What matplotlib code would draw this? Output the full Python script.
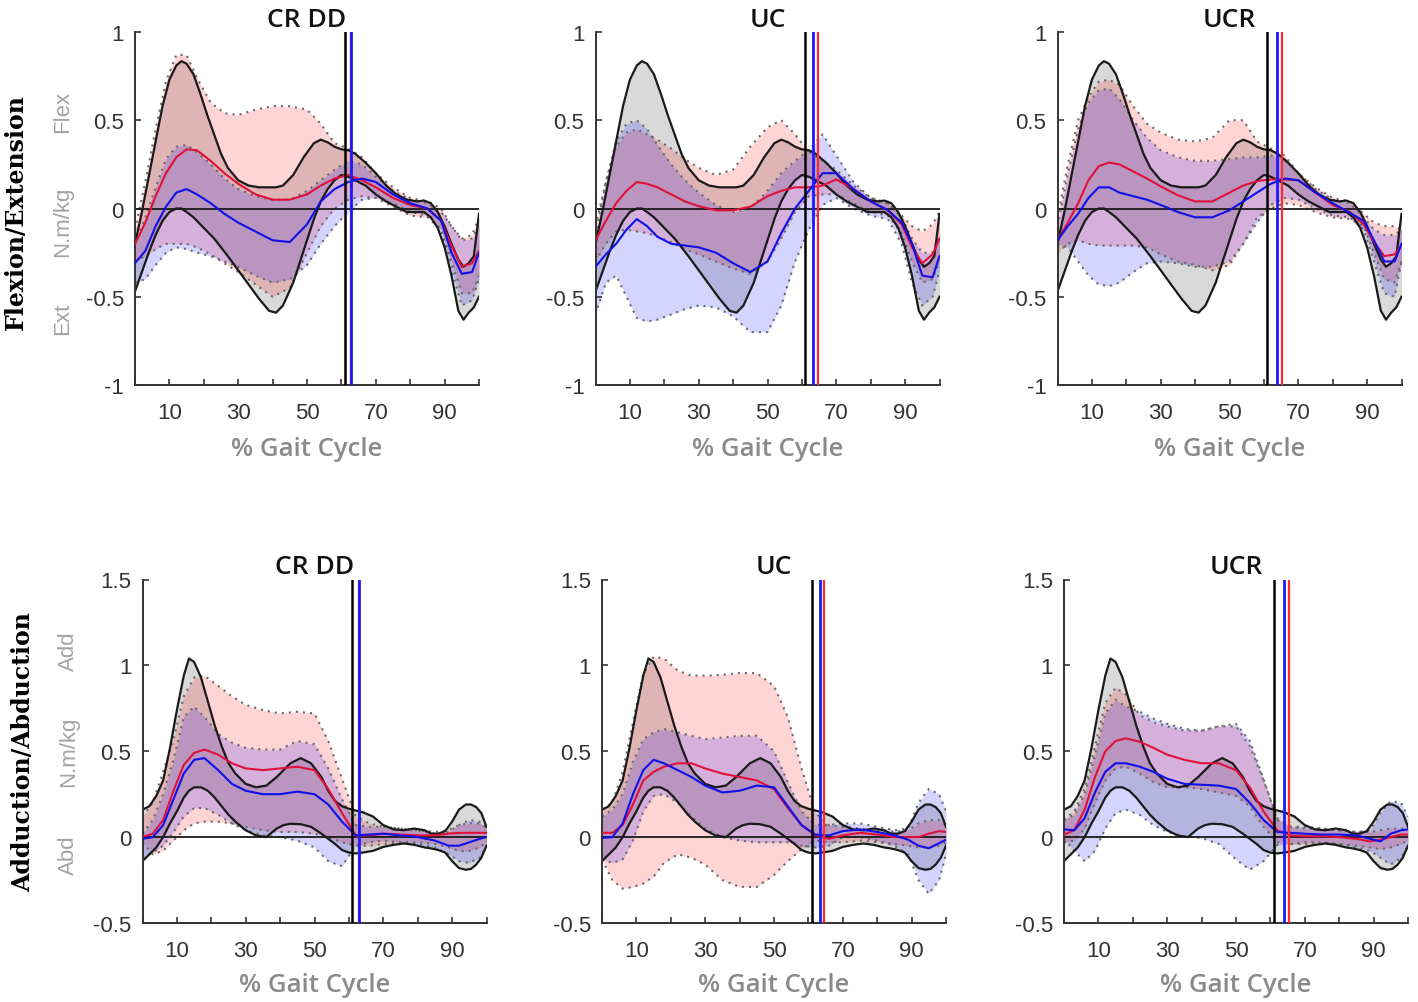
import numpy as np
import matplotlib
matplotlib.use("Agg")
import matplotlib.pyplot as plt

# ---------------- data ----------------
gait_pct = [0, 3, 6, 9, 12, 15, 18, 22, 26, 30, 35, 40, 45, 50, 54, 58, 62, 66, 70, 75, 80, 85, 89, 92, 95, 98, 100]
norm_pct = [0, 2, 4, 6, 8, 10, 12, 13.5, 15, 17, 19, 21, 23, 25, 27, 30, 33, 36, 39, 41, 43, 46, 49, 52, 54, 56, 58, 60,
            62, 64, 67, 70, 73, 76, 79, 82, 84, 86, 88, 90, 92, 94, 95.5, 97, 98.5, 100]

groups = ["CR DD", "UC", "UCR"]
row_labels = ["Flexion/Extension", "Adduction/Abduction"]

# Top row: flexion/extension moment (N.m/kg); normal band on norm_pct
fe_norm_up = [-0.2, -0.02, 0.18, 0.38, 0.58, 0.73, 0.81, 0.835, 0.82, 0.76, 0.65, 0.53, 0.42, 0.31, 0.23, 0.16, 0.13, 0.12,
              0.12, 0.12, 0.13, 0.19, 0.29, 0.37, 0.39, 0.375, 0.35, 0.335, 0.33, 0.31, 0.26, 0.2, 0.13, 0.08, 0.05, 0.04,
              0.045, 0.03, -0.02, -0.1, -0.2, -0.29, -0.33, -0.31, -0.27, -0.03]
fe_norm_lo = [-0.47, -0.36, -0.25, -0.15, -0.07, -0.02, 0.0, 0.0, -0.02, -0.05, -0.09, -0.13, -0.17, -0.22, -0.27, -0.35,
              -0.43, -0.51, -0.58, -0.59, -0.55, -0.42, -0.24, -0.06, 0.04, 0.11, 0.16, 0.19, 0.18, 0.16, 0.13, 0.08, 0.04,
              0.01, -0.02, -0.02, -0.02, -0.05, -0.11, -0.22, -0.38, -0.58, -0.63, -0.59, -0.56, -0.5]

fe_crdd_red_up = [-0.12, 0.15, 0.45, 0.72, 0.87, 0.87, 0.74, 0.6, 0.54, 0.53, 0.56, 0.58, 0.58, 0.56, 0.48, 0.37, 0.34, 0.29, 0.2, 0.12, 0.06, 0.04, 0.0, -0.1, -0.17, -0.15, -0.05]
fe_crdd_red_lo = [-0.3, -0.27, -0.23, -0.2, -0.2, -0.2, -0.22, -0.26, -0.31, -0.36, -0.43, -0.5, -0.45, -0.25, -0.1, 0.0, 0.05, 0.07, 0.06, 0.01, -0.04, -0.05, -0.12, -0.3, -0.48, -0.48, -0.38]
fe_crdd_blue_up = [-0.2, -0.05, 0.12, 0.28, 0.35, 0.36, 0.32, 0.25, 0.17, 0.11, 0.07, 0.05, 0.05, 0.1, 0.16, 0.22, 0.27, 0.25, 0.18, 0.1, 0.05, 0.03, -0.02, -0.1, -0.18, -0.17, -0.1]
fe_crdd_blue_lo = [-0.42, -0.4, -0.32, -0.25, -0.22, -0.23, -0.25, -0.27, -0.3, -0.33, -0.38, -0.42, -0.4, -0.32, -0.2, -0.1, -0.02, 0.05, 0.06, 0.03, -0.02, -0.04, -0.12, -0.35, -0.55, -0.52, -0.4]
fe_crdd_red_mean = [-0.2, -0.08, 0.07, 0.2, 0.29, 0.335, 0.33, 0.27, 0.2, 0.14, 0.08, 0.05, 0.05, 0.08, 0.13, 0.17, 0.19, 0.16, 0.12, 0.06, 0.02, 0.0, -0.07, -0.21, -0.33, -0.31, -0.24]
fe_crdd_blue_mean = [-0.31, -0.24, -0.1, 0.01, 0.09, 0.11, 0.08, 0.03, -0.03, -0.08, -0.13, -0.18, -0.19, -0.09, 0.04, 0.11, 0.15, 0.17, 0.15, 0.08, 0.03, 0.0, -0.07, -0.25, -0.37, -0.36, -0.25]

fe_uc_red_up = [-0.1, 0.15, 0.35, 0.43, 0.45, 0.42, 0.39, 0.34, 0.28, 0.23, 0.19, 0.22, 0.35, 0.46, 0.5, 0.42, 0.32, 0.27, 0.22, 0.13, 0.06, 0.03, -0.04, -0.1, -0.13, -0.09, -0.02]
fe_uc_red_lo = [-0.3, -0.2, -0.13, -0.12, -0.13, -0.14, -0.16, -0.19, -0.23, -0.26, -0.3, -0.34, -0.37, -0.3, -0.17, -0.02, 0.07, 0.08, 0.08, 0.03, -0.02, -0.04, -0.14, -0.3, -0.42, -0.4, -0.3]
fe_uc_blue_up = [-0.15, 0.15, 0.38, 0.48, 0.5, 0.45, 0.36, 0.25, 0.16, 0.09, 0.02, -0.02, 0.0, 0.1, 0.2, 0.27, 0.33, 0.42, 0.3, 0.15, 0.06, 0.03, -0.05, -0.17, -0.25, -0.25, -0.15]
fe_uc_blue_lo = [-0.6, -0.42, -0.38, -0.5, -0.62, -0.64, -0.63, -0.6, -0.57, -0.55, -0.56, -0.61, -0.7, -0.7, -0.55, -0.3, -0.12, 0.02, 0.06, 0.0, -0.04, -0.06, -0.2, -0.42, -0.55, -0.5, -0.35]
fe_uc_red_mean = [-0.18, -0.07, 0.03, 0.1, 0.15, 0.14, 0.12, 0.08, 0.04, 0.013, -0.01, -0.01, 0.01, 0.07, 0.1, 0.12, 0.12, 0.13, 0.165, 0.11, 0.04, -0.01, -0.09, -0.22, -0.31, -0.26, -0.17]
fe_uc_blue_mean = [-0.33, -0.26, -0.2, -0.12, -0.06, -0.1, -0.16, -0.2, -0.21, -0.22, -0.25, -0.31, -0.36, -0.3, -0.14, 0.0, 0.1, 0.2, 0.2, 0.11, 0.04, -0.01, -0.08, -0.2, -0.38, -0.39, -0.27]

fe_ucr_red_up = [-0.05, 0.25, 0.5, 0.63, 0.72, 0.73, 0.7, 0.58, 0.48, 0.43, 0.39, 0.38, 0.4, 0.5, 0.5, 0.38, 0.34, 0.3, 0.2, 0.12, 0.06, 0.04, -0.03, -0.08, -0.1, -0.1, -0.12]
fe_ucr_red_lo = [-0.25, -0.2, -0.18, -0.2, -0.21, -0.21, -0.21, -0.21, -0.22, -0.26, -0.3, -0.32, -0.35, -0.32, -0.2, -0.05, 0.0, 0.03, 0.02, -0.02, -0.05, -0.06, -0.1, -0.25, -0.4, -0.42, -0.3]
fe_ucr_blue_up = [-0.1, 0.2, 0.45, 0.6, 0.67, 0.68, 0.62, 0.5, 0.4, 0.33, 0.29, 0.27, 0.27, 0.28, 0.29, 0.29, 0.3, 0.28, 0.2, 0.11, 0.05, 0.03, -0.05, -0.12, -0.15, -0.15, -0.12]
fe_ucr_blue_lo = [-0.2, -0.22, -0.3, -0.38, -0.43, -0.44, -0.42, -0.36, -0.31, -0.3, -0.31, -0.33, -0.33, -0.3, -0.2, -0.08, 0.02, 0.06, 0.05, 0.0, -0.04, -0.05, -0.12, -0.3, -0.48, -0.5, -0.3]
fe_ucr_red_mean = [-0.18, -0.08, 0.03, 0.16, 0.24, 0.26, 0.25, 0.21, 0.17, 0.125, 0.075, 0.04, 0.04, 0.09, 0.13, 0.155, 0.165, 0.165, 0.16, 0.09, 0.02, -0.02, -0.09, -0.19, -0.27, -0.26, -0.21]
fe_ucr_blue_mean = [-0.18, -0.1, -0.03, 0.06, 0.12, 0.12, 0.09, 0.07, 0.05, 0.02, -0.02, -0.05, -0.05, -0.01, 0.04, 0.09, 0.14, 0.17, 0.16, 0.09, 0.03, -0.025, -0.07, -0.18, -0.3, -0.3, -0.2]

# Bottom row: adduction/abduction moment (N.m/kg); normal band on norm_pct
aa_norm_up = [0.16, 0.18, 0.24, 0.33, 0.52, 0.74, 0.94, 1.04, 1.02, 0.93, 0.79, 0.65, 0.53, 0.43, 0.37, 0.31, 0.29, 0.3,
              0.35, 0.39, 0.43, 0.46, 0.43, 0.35, 0.27, 0.21, 0.18, 0.165, 0.155, 0.145, 0.12, 0.07, 0.045, 0.04, 0.05,
              0.04, 0.02, 0.02, 0.035, 0.09, 0.16, 0.19, 0.19, 0.175, 0.14, 0.06]
aa_norm_lo = [-0.14, -0.1, -0.06, 0.0, 0.08, 0.15, 0.23, 0.27, 0.29, 0.29, 0.27, 0.23, 0.18, 0.13, 0.09, 0.04, 0.01, 0.0,
              0.05, 0.07, 0.078, 0.075, 0.06, 0.02, -0.01, -0.04, -0.075, -0.09, -0.095, -0.09, -0.08, -0.057, -0.045,
              -0.037, -0.045, -0.06, -0.066, -0.075, -0.09, -0.14, -0.18, -0.19, -0.185, -0.16, -0.12, -0.05]

aa_crdd_red_up = [0.12, 0.2, 0.38, 0.57, 0.82, 0.93, 0.94, 0.88, 0.82, 0.77, 0.74, 0.72, 0.73, 0.72, 0.56, 0.34, 0.12, 0.08, 0.06, 0.05, 0.04, 0.03, 0.04, 0.07, 0.08, 0.08, 0.06]
aa_crdd_red_lo = [-0.03, -0.1, -0.08, -0.02, 0.04, 0.08, 0.09, 0.09, 0.08, 0.06, 0.04, 0.03, 0.03, 0.02, 0.0, -0.03, -0.05, -0.05, -0.04, -0.03, -0.03, -0.04, -0.06, -0.08, -0.08, -0.06, -0.03]
aa_crdd_blue_up = [0.02, 0.1, 0.25, 0.45, 0.7, 0.76, 0.7, 0.6, 0.55, 0.52, 0.51, 0.51, 0.56, 0.54, 0.4, 0.22, 0.07, 0.06, 0.06, 0.05, 0.04, 0.02, 0.03, 0.07, 0.1, 0.09, 0.05]
aa_crdd_blue_lo = [-0.12, -0.09, -0.05, 0.03, 0.12, 0.17, 0.17, 0.13, 0.08, 0.04, 0.01, 0.0, -0.02, -0.06, -0.14, -0.17, -0.05, -0.03, -0.02, -0.03, -0.04, -0.06, -0.1, -0.14, -0.15, -0.12, -0.05]
aa_crdd_red_mean = [0.0, 0.02, 0.1, 0.27, 0.42, 0.49, 0.51, 0.48, 0.43, 0.4, 0.39, 0.4, 0.41, 0.39, 0.28, 0.14, 0.01, 0.01, 0.02, 0.015, 0.01, 0.01, 0.02, 0.025, 0.025, 0.025, 0.025]
aa_crdd_blue_mean = [-0.01, 0.0, 0.07, 0.22, 0.37, 0.45, 0.46, 0.39, 0.31, 0.27, 0.25, 0.25, 0.265, 0.25, 0.19, 0.09, 0.01, 0.015, 0.02, 0.01, 0.0, -0.02, -0.05, -0.05, -0.03, -0.01, 0.0]

aa_uc_red_up = [0.16, 0.2, 0.38, 0.67, 0.95, 1.05, 1.04, 0.97, 0.94, 0.94, 0.945, 0.955, 0.955, 0.88, 0.7, 0.4, 0.14, 0.07, 0.06, 0.05, 0.04, 0.03, 0.04, 0.08, 0.1, 0.1, 0.07]
aa_uc_red_lo = [-0.13, -0.25, -0.3, -0.29, -0.27, -0.23, -0.15, -0.1, -0.12, -0.16, -0.25, -0.29, -0.29, -0.22, -0.14, -0.07, -0.02, -0.03, -0.03, -0.02, -0.03, -0.04, -0.05, -0.06, -0.06, -0.05, -0.03]
aa_uc_blue_up = [0.12, 0.16, 0.25, 0.44, 0.57, 0.61, 0.63, 0.61, 0.59, 0.57, 0.58, 0.59, 0.59, 0.5, 0.32, 0.15, 0.07, 0.07, 0.08, 0.08, 0.06, 0.04, 0.05, 0.2, 0.28, 0.25, 0.15]
aa_uc_blue_lo = [-0.13, -0.15, -0.13, -0.02, 0.15, 0.24, 0.25, 0.2, 0.12, 0.05, 0.0, -0.02, -0.03, -0.03, -0.03, -0.05, -0.06, -0.05, 0.0, 0.0, -0.02, -0.05, -0.1, -0.25, -0.33, -0.25, -0.1]
aa_uc_red_mean = [0.025, 0.025, 0.07, 0.19, 0.33, 0.38, 0.41, 0.43, 0.43, 0.4, 0.37, 0.35, 0.33, 0.28, 0.17, 0.07, 0.01, -0.01, 0.01, 0.025, 0.015, 0.0, 0.0, 0.0, 0.02, 0.035, 0.03]
aa_uc_blue_mean = [-0.005, 0.0, 0.08, 0.25, 0.39, 0.45, 0.43, 0.39, 0.35, 0.3, 0.26, 0.27, 0.3, 0.29, 0.18, 0.07, 0.015, 0.01, 0.035, 0.045, 0.03, 0.01, -0.015, -0.05, -0.065, -0.035, -0.015]

aa_ucr_red_up = [0.1, 0.15, 0.28, 0.53, 0.78, 0.87, 0.83, 0.71, 0.67, 0.645, 0.62, 0.62, 0.645, 0.645, 0.53, 0.33, 0.11, 0.06, 0.05, 0.05, 0.04, 0.03, 0.03, 0.04, 0.05, 0.05, 0.05]
aa_ucr_red_lo = [-0.03, -0.02, 0.05, 0.2, 0.33, 0.4, 0.41, 0.37, 0.32, 0.29, 0.29, 0.28, 0.26, 0.24, 0.18, 0.06, -0.03, -0.04, -0.04, -0.04, -0.04, -0.05, -0.06, -0.07, -0.06, -0.04, -0.02]
aa_ucr_blue_up = [0.1, 0.13, 0.25, 0.48, 0.72, 0.8, 0.76, 0.73, 0.69, 0.66, 0.63, 0.62, 0.645, 0.66, 0.56, 0.34, 0.1, 0.06, 0.06, 0.05, 0.04, 0.03, 0.04, 0.14, 0.21, 0.2, 0.12]
aa_ucr_blue_lo = [-0.01, -0.08, -0.14, -0.08, 0.05, 0.14, 0.16, 0.13, 0.07, 0.03, 0.005, -0.005, -0.04, -0.13, -0.19, -0.14, -0.045, -0.04, -0.03, -0.03, -0.04, -0.06, -0.08, -0.12, -0.16, -0.12, -0.05]
aa_ucr_red_mean = [0.015, 0.04, 0.16, 0.35, 0.5, 0.56, 0.575, 0.555, 0.52, 0.48, 0.45, 0.43, 0.43, 0.39, 0.29, 0.15, 0.04, 0.01, 0.005, 0.005, 0.0, -0.01, -0.025, -0.015, 0.0, 0.015, 0.015]
aa_ucr_blue_mean = [0.045, 0.04, 0.11, 0.26, 0.38, 0.43, 0.43, 0.41, 0.38, 0.34, 0.31, 0.305, 0.3, 0.28, 0.2, 0.1, 0.03, 0.025, 0.02, 0.015, 0.015, 0.01, -0.01, -0.025, 0.02, 0.04, 0.045]

# toe-off (% gait cycle): normal, red group, blue group
toe_off_norm = [61.0, 61.0, 61.0]
toe_off_red = [62.9, 64.6, 65.3]
toe_off_blue = [62.9, 63.3, 63.9]

# axis ticks
x_ticks = [0, 10, 20, 30, 40, 50, 60, 70, 80, 90, 100]
x_ticklabels = ["", "10", "", "30", "", "50", "", "70", "", "90", ""]
fe_yticks = [-1, -0.5, 0, 0.5, 1]
fe_yticklabels = ["-1", "-0.5", "0", "0.5", "1"]
aa_yticks = [-0.5, 0, 0.5, 1, 1.5]
aa_yticklabels = ["-0.5", "0", "0.5", "1", "1.5"]

fe_series = [
    (fe_crdd_red_up, fe_crdd_red_lo, fe_crdd_blue_up, fe_crdd_blue_lo, fe_crdd_red_mean, fe_crdd_blue_mean),
    (fe_uc_red_up, fe_uc_red_lo, fe_uc_blue_up, fe_uc_blue_lo, fe_uc_red_mean, fe_uc_blue_mean),
    (fe_ucr_red_up, fe_ucr_red_lo, fe_ucr_blue_up, fe_ucr_blue_lo, fe_ucr_red_mean, fe_ucr_blue_mean),
]
aa_series = [
    (aa_crdd_red_up, aa_crdd_red_lo, aa_crdd_blue_up, aa_crdd_blue_lo, aa_crdd_red_mean, aa_crdd_blue_mean),
    (aa_uc_red_up, aa_uc_red_lo, aa_uc_blue_up, aa_uc_blue_lo, aa_uc_red_mean, aa_uc_blue_mean),
    (aa_ucr_red_up, aa_ucr_red_lo, aa_ucr_blue_up, aa_ucr_blue_lo, aa_ucr_red_mean, aa_ucr_blue_mean),
]

# ---------------- figure ----------------
W, H = 1418, 1003
fig = plt.figure(figsize=(W / 100, H / 100), dpi=100)

top_lefts = [135, 595.5, 1057.5]
bot_lefts = [142.5, 602, 1064]
ax_w = 344

TICK_COLOR = "#333333"
DOT = (0, (1, 2.4))

def draw_panel(ax, norm_up, norm_lo, ser, k, ylim, yticks, yticklabels, title):
    red_up, red_lo, blue_up, blue_lo, red_mean, blue_mean = ser
    x = gait_pct
    ax.fill_between(norm_pct, norm_lo, norm_up, color="black", alpha=0.15, lw=0, zorder=1)
    ax.fill_between(x, red_lo, red_up, color="red", alpha=0.17, lw=0, zorder=1.1)
    ax.fill_between(x, blue_lo, blue_up, color="blue", alpha=0.17, lw=0, zorder=1.2)
    for arr in (red_up, red_lo, blue_up, blue_lo):
        ax.plot(x, arr, color="#6a6a6a", lw=1.5, linestyle=DOT, zorder=2)
    for arr in (norm_up, norm_lo):
        ax.plot(norm_pct, arr, color="#1a1a1a", lw=1.6, zorder=2.5)
    ax.axhline(0, color="#1a1a1a", lw=1.3, zorder=2.4)
    ax.plot(x, red_mean, color="#e0103a", lw=1.5, zorder=3)
    ax.plot(x, blue_mean, color="#1010e8", lw=1.5, zorder=3.1)
    ax.axvline(toe_off_norm[k], color="black", lw=1.8, zorder=4)
    ax.axvline(toe_off_red[k], color="#ff2a2a", lw=1.6, zorder=4)
    ax.axvline(toe_off_blue[k], color="#1a1aff", lw=2.0, zorder=4.1)

    ax.set_xlim(0, 100)
    ax.set_ylim(*ylim)
    ax.set_xticks(x_ticks)
    ax.set_xticklabels(x_ticklabels)
    ax.set_yticks(yticks)
    ax.set_yticklabels(yticklabels)
    for s in ("top", "right"):
        ax.spines[s].set_visible(False)
    for s in ("left", "bottom"):
        ax.spines[s].set_color(TICK_COLOR)
        ax.spines[s].set_linewidth(1.4)
    ax.tick_params(axis="both", direction="in", length=4, width=1.2, color=TICK_COLOR,
                   labelcolor=TICK_COLOR, labelsize=16)
    ax.tick_params(axis="x", pad=12)
    ax.tick_params(axis="y", pad=8)
    for lab in ax.get_xticklabels() + ax.get_yticklabels():
        lab.set_fontfamily("Liberation Sans")
    ax.set_title(title, fontsize=19, fontweight="semibold", color="#111111",
                 family=["Open Sans", "DejaVu Sans"], pad=3)
    ax.text(0.5, -0.18, "% Gait Cycle", transform=ax.transAxes, ha="center", va="center",
            fontsize=18.5, fontweight="semibold", color="#8a8a8a",
            family=["Open Sans", "DejaVu Sans"])

top_bottom = 1 - 386 / H
top_h = 353 / H
bot_bottom = 1 - 924 / H
bot_h = 343.5 / H

top_axes = []
bot_axes = []
for k in range(3):
    ax = fig.add_axes([top_lefts[k] / W, top_bottom, ax_w / W, top_h])
    draw_panel(ax, fe_norm_up, fe_norm_lo, fe_series[k], k, (-1, 1), fe_yticks, fe_yticklabels, groups[k])
    top_axes.append(ax)
    ax = fig.add_axes([bot_lefts[k] / W, bot_bottom, ax_w / W, bot_h])
    draw_panel(ax, aa_norm_up, aa_norm_lo, aa_series[k], k, (-0.5, 1.5), aa_yticks, aa_yticklabels, groups[k])
    bot_axes.append(ax)

# side labels
grey = "#a3a3a3"
sfam = ["Liberation Sans", "DejaVu Sans"]
ax = top_axes[0]
tr = ax.get_yaxis_transform()
ax.text(-0.21, 0.55, "Flex", transform=tr, rotation=90, ha="center", va="center", fontsize=16, color=grey, family=sfam)
ax.text(-0.21, -0.07, "N.m/kg", transform=tr, rotation=90, ha="center", va="center", fontsize=16, color=grey, family=sfam)
ax.text(-0.21, -0.62, "Ext", transform=tr, rotation=90, ha="center", va="center", fontsize=16, color=grey, family=sfam)
ax = bot_axes[0]
tr = ax.get_yaxis_transform()
ax.text(-0.214, 1.09, "Add", transform=tr, rotation=90, ha="center", va="center", fontsize=16, color=grey, family=sfam)
ax.text(-0.214, 0.5, "N.m/kg", transform=tr, rotation=90, ha="center", va="center", fontsize=16, color=grey, family=sfam)
ax.text(-0.214, -0.1, "Abd", transform=tr, rotation=90, ha="center", va="center", fontsize=16, color=grey, family=sfam)

fig.text(16 / W, 1 - 212 / H, row_labels[0], rotation=90, ha="center", va="center",
         fontsize=17, fontweight="bold", family="DejaVu Serif", color="black")
fig.text(23 / W, 1 - 752 / H, row_labels[1], rotation=90, ha="center", va="center",
         fontsize=17, fontweight="bold", family="DejaVu Serif", color="black")

fig.savefig("out.png", dpi=100)
